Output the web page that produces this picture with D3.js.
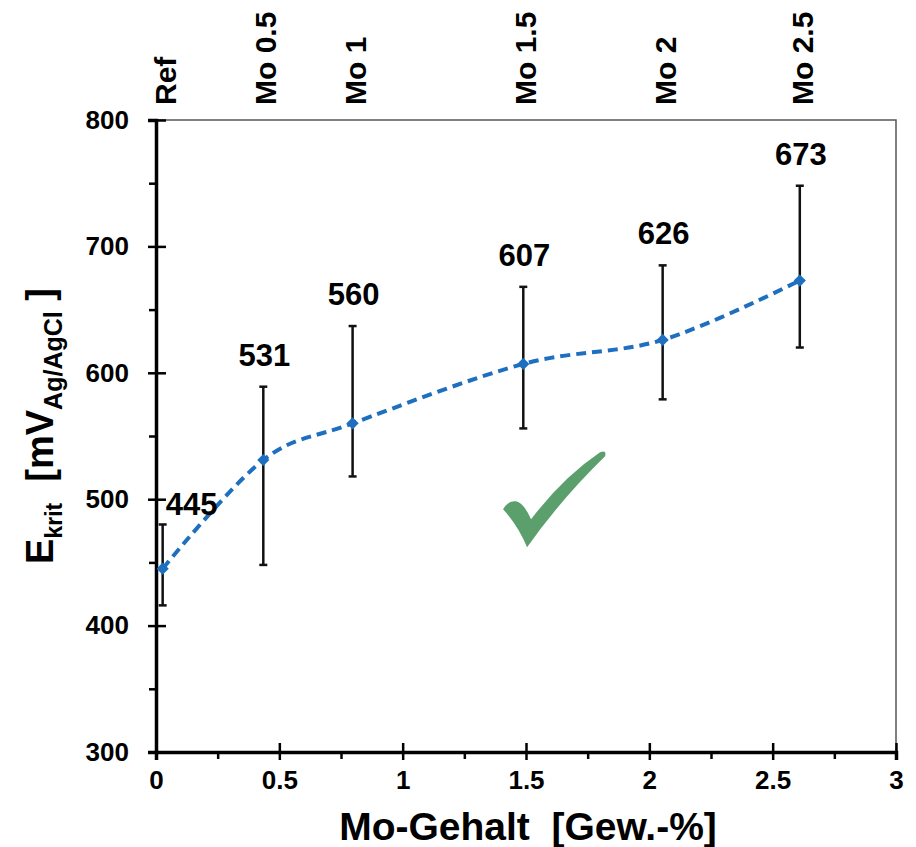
<!DOCTYPE html>
<html lang="de">
<head>
  <meta charset="UTF-8">
  <title>Ekrit vs Mo-Gehalt</title>
  <script src="https://d3js.org/d3.v7.min.js"></script>
  <style>
    body { margin: 0; background: #fff; }
    svg text { font-family: "Liberation Sans", Arial, sans-serif; font-weight: bold; }
  </style>
</head>
<body>
  <div id="chart"></div>
  <script>
    // values
    const moContent = [0.027, 0.435, 0.797, 1.489, 2.054, 2.61];
    const eKrit     = [445, 531, 560, 607, 626, 673];
    const errLow    = [416, 448, 518, 556, 579, 620];
    const errHigh   = [480, 589, 637, 668, 685, 748];
    const alloyNames = ["Ref", "Mo 0.5", "Mo 1", "Mo 1.5", "Mo 2", "Mo 2.5"];
    const xTicks = [0, 0.5, 1, 1.5, 2, 2.5, 3];
    const yTicks = [300, 400, 500, 600, 700, 800];
    const yMinor = [350, 450, 550, 650, 750];
    const xMinor = [0.25, 0.75, 1.25, 1.75, 2.25, 2.75];

    const width = 916, height = 847;
    const margin = {top: 120, right: 20, bottom: 95, left: 156};

    const svg = d3.select("#chart").append("svg")
      .attr("width", width)
      .attr("height", height);

    const x = d3.scaleLinear().domain([0, 3]).range([margin.left, width - margin.right]);
    const y = d3.scaleLinear().domain([300, 800]).range([height - margin.bottom, margin.top]);

    const data = moContent.map((m, i) => ({
      x: m, v: eKrit[i], lo: errLow[i], hi: errHigh[i], name: alloyNames[i]
    }));

    // thin frame top + right
    svg.append("path")
      .attr("d", `M${x(0)},${y(800)}H${x(3)}V${y(300)}`)
      .attr("fill", "none")
      .attr("stroke", "#555")
      .attr("stroke-width", 1.5);

    // check mark (decoration)
    svg.append("path")
      .attr("transform", `translate(${x(1.407)},${y(492)})`)
      .attr("d", "M0,0 Q5,-9 13,-8 Q21,-6 28,10 Q60,-32 97,-57 Q104,-60 102,-53 Q57,-9 24,38 Q15,16 0,0 Z")
      .attr("fill", "#5b9f6d");

    // minor ticks
    svg.append("g")
      .attr("transform", `translate(${x(0)},0)`)
      .call(d3.axisLeft(y).tickValues(yMinor).tickSize(7).tickFormat(""))
      .call(g => g.select(".domain").remove())
      .call(g => g.selectAll("line").attr("stroke-width", 2.5));

    svg.append("g")
      .attr("transform", `translate(0,${y(300)})`)
      .call(d3.axisBottom(x).tickValues(xMinor).tickSize(7).tickFormat(""))
      .call(g => g.select(".domain").remove())
      .call(g => g.selectAll("line").attr("stroke-width", 2.5));

    // y axis
    svg.append("g")
      .attr("transform", `translate(${x(0)},0)`)
      .call(d3.axisLeft(y).tickValues(yTicks).tickSizeOuter(0).tickSize(8).tickPadding(19))
      .call(g => g.select(".domain").attr("stroke-width", 3.5))
      .call(g => g.selectAll(".tick line").attr("x2", -8).attr("x1", 10).attr("stroke-width", 2.5))
      .call(g => g.selectAll(".tick text").attr("font-size", 26).attr("fill", "#000"));

    // x axis
    svg.append("g")
      .attr("transform", `translate(0,${y(300)})`)
      .call(d3.axisBottom(x).tickValues(xTicks).tickSizeOuter(0).tickSize(8).tickPadding(11)
        .tickFormat(d3.format("~g")))
      .call(g => g.select(".domain").attr("stroke-width", 3.5))
      .call(g => g.selectAll(".tick line").attr("y1", -9).attr("y2", 8).attr("stroke-width", 2.5))
      .call(g => g.selectAll(".tick text").attr("font-size", 26).attr("fill", "#000"));

    // error bars
    const eb = svg.append("g").attr("stroke", "#111").attr("stroke-width", 2.5);
    eb.selectAll("line.v").data(data).join("line")
      .attr("x1", d => x(d.x)).attr("x2", d => x(d.x))
      .attr("y1", d => y(d.lo)).attr("y2", d => y(d.hi));
    eb.selectAll("line.c1").data(data).join("line")
      .attr("x1", d => x(d.x) - 4).attr("x2", d => x(d.x) + 4)
      .attr("y1", d => y(d.hi)).attr("y2", d => y(d.hi));
    eb.selectAll("line.c2").data(data).join("line")
      .attr("x1", d => x(d.x) - 4).attr("x2", d => x(d.x) + 4)
      .attr("y1", d => y(d.lo)).attr("y2", d => y(d.lo));

    // dashed smoothed line
    const line = d3.line()
      .x(d => x(d.x))
      .y(d => y(d.v))
      .curve(d3.curveCardinal.tension(0));

    svg.append("path")
      .datum(data)
      .attr("d", line)
      .attr("fill", "none")
      .attr("stroke", "#1f6fc0")
      .attr("stroke-width", 4)
      .attr("stroke-dasharray", "10,6");

    // diamond markers
    svg.append("g").selectAll("path").data(data).join("path")
      .attr("transform", d => `translate(${x(d.x)},${y(d.v)})`)
      .attr("d", d3.symbol(d3.symbolDiamond2, 95))
      .attr("fill", "#1f6fc0");

    // value labels
    svg.append("g").selectAll("text").data(data).join("text")
      .attr("x", (d, i) => i === 0 ? x(d.x) + 3 : x(d.x) + 1)
      .attr("y", (d, i) => i === 0 ? y(d.hi) - 9 : y(d.hi) - 21)
      .attr("text-anchor", (d, i) => i === 0 ? "start" : "middle")
      .attr("font-size", 31)
      .text(d => d.v);

    // alloy names on top, rotated
    svg.append("g").selectAll("text").data(data).join("text")
      .attr("transform", d => `translate(${x(d.x) + 13},${margin.top - 15}) rotate(-90)`)
      .attr("font-size", 30)
      .text(d => d.name);

    // x axis title
    svg.append("text")
      .attr("x", (x(0) + x(3)) / 2 + 2)
      .attr("y", 840)
      .attr("text-anchor", "middle")
      .attr("font-size", 39)
      .text("Mo-Gehalt\u00a0\u00a0[Gew.-%]");

    // y axis title with subscripts
    const yt = svg.append("text")
      .attr("transform", `translate(53,${(y(300) + y(800)) / 2 - 10}) rotate(-90)`)
      .attr("text-anchor", "middle")
      .attr("font-size", 38);
    yt.append("tspan").text("E");
    yt.append("tspan").attr("font-size", 23).attr("dy", 9).text("krit");
    yt.append("tspan").attr("dy", -9).text("\u00a0\u00a0[mV");
    yt.append("tspan").attr("font-size", 25).attr("dy", 9).text("Ag/AgCl");
    yt.append("tspan").attr("dy", -9).text("\u00a0]");
  </script>
</body>
</html>
